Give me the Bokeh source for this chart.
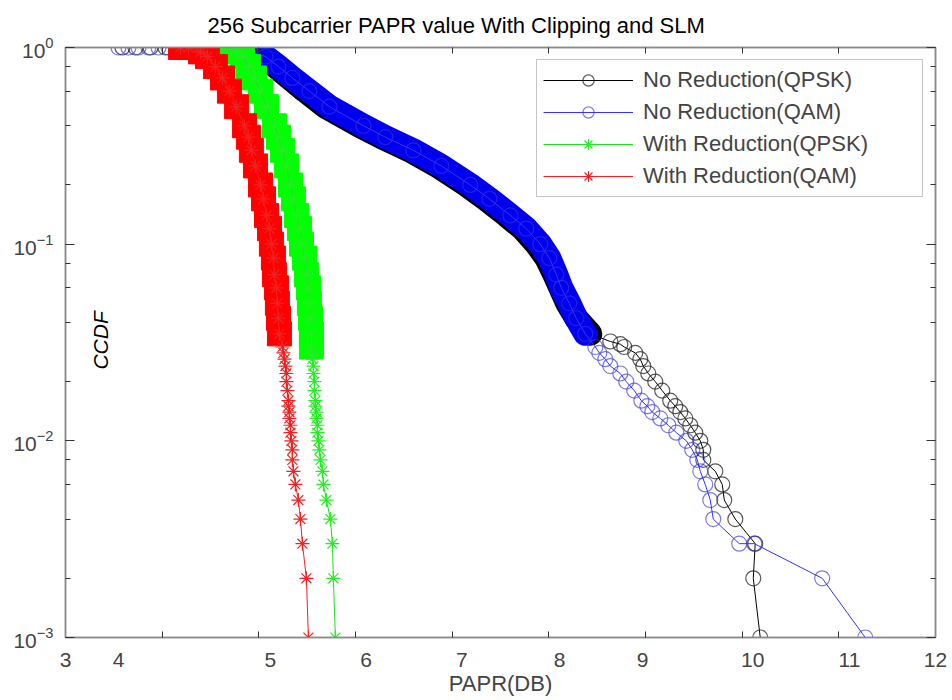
from bokeh.plotting import figure
from bokeh.models import (Range1d, LinearAxis, FixedTicker, LogTicker,
                          Legend, LegendItem, Label, CustomJSTickFormatter)
from bokeh.embed import file_html
from bokeh.resources import INLINE

FONT = "Liberation Sans"

# ---------------- data ----------------
x_tick_values = [4, 5, 6, 7, 8, 9, 10, 11]
x_label_positions = [3.0, 3.55, 5.12, 6.11, 7.10, 8.11, 8.97, 10.11, 11.11, 12.0]
x_label_texts = ["3", "4", "5", "6", "7", "8", "9", "10", "11", "12"]

# No Reduction (QPSK) - black
nr_qpsk_papr = [3.589, 3.724, 3.879, 4.034, 4.189, 4.344, 4.499, 4.655, 4.789,
                4.882, 5.037, 5.172, 5.316, 5.482, 5.689, 6.040, 6.268, 6.557, 6.847,
                7.147, 7.343, 7.561, 7.726, 7.871, 7.974, 8.057, 8.119, 8.191, 8.284,
                8.429, 8.636, 8.740, 8.780, 8.894, 8.946, 8.977, 9.029, 9.101, 9.173,
                9.256, 9.308, 9.360, 9.412, 9.463, 9.515, 9.567, 9.598, 9.598, 9.722,
                9.794, 9.815, 9.929, 10.135, 10.115, 10.187]
nr_qpsk_ccdf = [1.0, 1.0, 1.0, 1.0, 1.0, 1.0, 1.0, 1.0, 1.0,
                0.95, 0.9, 0.8, 0.7, 0.6, 0.5, 0.4, 0.35, 0.3, 0.25,
                0.2, 0.17, 0.14, 0.12, 0.1, 0.085, 0.07, 0.06, 0.05, 0.042,
                0.035, 0.032, 0.031, 0.03, 0.028, 0.026, 0.024, 0.022, 0.02, 0.018,
                0.016, 0.015, 0.014, 0.013, 0.012, 0.011, 0.010, 0.009, 0.008, 0.007,
                0.006, 0.005, 0.004, 0.003, 0.002, 0.001]

# No Reduction (QAM) - blue
nr_qam_papr = [3.548, 3.651, 3.755, 3.858, 3.962, 4.065, 4.169, 4.272, 4.375, 4.479,
               4.582, 4.686, 4.789,
               4.913, 5.068, 5.203, 5.347, 5.523, 5.730, 6.082, 6.309, 6.599, 6.888,
               7.188, 7.385, 7.602, 7.767, 7.912, 8.005, 8.078, 8.129, 8.212, 8.284,
               8.377, 8.481, 8.522, 8.584, 8.636, 8.739, 8.801, 8.884, 8.957, 9.019,
               9.070, 9.153, 9.236, 9.319, 9.422, 9.484, 9.536, 9.567, 9.618, 9.670,
               9.701, 9.970, 10.125, 10.828, 11.273]
nr_qam_ccdf = [1.0, 1.0, 1.0, 1.0, 1.0, 1.0, 1.0, 1.0, 1.0, 1.0,
               1.0, 1.0, 1.0,
               0.95, 0.9, 0.8, 0.7, 0.6, 0.5, 0.4, 0.35, 0.3, 0.25,
               0.2, 0.17, 0.14, 0.12, 0.1, 0.085, 0.07, 0.06, 0.05, 0.042,
               0.035, 0.03, 0.028, 0.026, 0.024, 0.022, 0.02, 0.018, 0.016, 0.015,
               0.014, 0.013, 0.012, 0.011, 0.010, 0.009, 0.008, 0.007, 0.006, 0.005,
               0.004, 0.003, 0.003, 0.002, 0.001]

# With Reduction (QPSK) - green
wr_qpsk_papr = [4.520, 4.624, 4.706,
                4.779, 4.830, 4.892, 4.954, 5.017, 5.079, 5.161, 5.203, 5.244, 5.285,
                5.327, 5.358, 5.389, 5.420, 5.441, 5.472, 5.492, 5.513, 5.523, 5.534,
                5.544, 5.544, 5.554, 5.554, 5.565, 5.565, 5.575, 5.575, 5.585, 5.585,
                5.596, 5.596, 5.606, 5.606, 5.616, 5.627, 5.637, 5.658, 5.668, 5.699,
                5.740, 5.761, 5.771, 5.792]
wr_qpsk_ccdf = [1.0, 1.0, 1.0,
                0.95, 0.9, 0.8, 0.7, 0.6, 0.5, 0.4, 0.35, 0.3, 0.25,
                0.2, 0.17, 0.14, 0.12, 0.1, 0.085, 0.07, 0.06, 0.05, 0.042,
                0.035, 0.03, 0.028, 0.026, 0.024, 0.022, 0.02, 0.018, 0.016, 0.015,
                0.014, 0.013, 0.012, 0.011, 0.010, 0.009, 0.008, 0.007, 0.006, 0.005,
                0.004, 0.003, 0.002, 0.001]

# With Reduction (QAM) - red
wr_qam_papr = [4.189, 4.272,
               4.396, 4.468, 4.551, 4.624, 4.696, 4.768, 4.851, 4.892, 4.923, 4.965,
               5.017, 5.048, 5.079, 5.110, 5.130, 5.151, 5.161, 5.182, 5.192, 5.203,
               5.213, 5.244, 5.254, 5.265, 5.275, 5.285, 5.285, 5.296, 5.306, 5.306,
               5.316, 5.316, 5.327, 5.327, 5.337, 5.347, 5.347, 5.358, 5.378, 5.409,
               5.430, 5.451, 5.492, 5.513]
wr_qam_ccdf = [1.0, 1.0,
               0.95, 0.9, 0.8, 0.7, 0.6, 0.5, 0.4, 0.35, 0.3, 0.25,
               0.2, 0.17, 0.14, 0.12, 0.1, 0.085, 0.07, 0.06, 0.05, 0.042,
               0.035, 0.03, 0.028, 0.026, 0.024, 0.022, 0.02, 0.018, 0.016, 0.015,
               0.014, 0.013, 0.012, 0.011, 0.010, 0.009, 0.008, 0.007, 0.006, 0.005,
               0.004, 0.003, 0.002, 0.001]


def subset(xs, ys, lo, hi):
    idx = [i for i, v in enumerate(ys) if lo <= v <= hi]
    return [xs[i] for i in idx], [ys[i] for i in idx]


# ---------------- figure ----------------
p = figure(width=952, height=700, output_backend="svg", toolbar_location=None,
           x_range=Range1d(3, 12), y_range=Range1d(1e-3, 1.0), y_axis_type="log",
           min_border_left=65, min_border_right=17, min_border_top=47,
           min_border_bottom=63, background_fill_color="white",
           border_fill_color="white")
p.xgrid.visible = False
p.ygrid.visible = False
p.outline_line_color = "#8a8a8a"
p.outline_line_width = 1.5

p.title.text = "256 Subcarrier PAPR value With Clipping and SLM"
p.title.align = "left"
p.title.offset = 142
p.title.text_font = FONT
p.title.text_font_size = "22px"
p.title.text_font_style = "normal"
p.title.text_color = "black"
p.title.standoff = 19

AX = "#8a8a8a"
TK = "#333333"

xa = p.xaxis[0]
xa.ticker = FixedTicker(ticks=x_label_positions, minor_ticks=x_tick_values)
xa.major_label_overrides = {v: t for v, t in zip(x_label_positions, x_label_texts)}
xa.major_tick_line_color = None
xa.minor_tick_in = 6
xa.minor_tick_out = 0
xa.minor_tick_line_color = TK
xa.axis_line_color = AX
xa.axis_line_width = 1.5
xa.major_label_text_font = FONT
xa.major_label_text_font_size = "21px"
xa.major_label_standoff = 9
xa.axis_label = "PAPR(DB)"
xa.axis_label_text_font = FONT
xa.axis_label_text_font_size = "22px"
xa.axis_label_text_font_style = "normal"
xa.axis_label_standoff = 1

ya = p.yaxis[0]
ya.ticker = LogTicker()
ya.major_tick_in = 9
ya.major_tick_out = 0
ya.minor_tick_in = 5
ya.minor_tick_out = 0
ya.major_tick_line_color = TK
ya.minor_tick_line_color = TK
ya.axis_line_color = AX
ya.axis_line_width = 1.5
ya.major_label_text_font = FONT
ya.major_label_text_font_size = "21px"
ya.major_label_standoff = 12

top = LinearAxis(ticker=FixedTicker(ticks=x_tick_values),
                 formatter=CustomJSTickFormatter(code="return ''"),
                 axis_line_color=AX, axis_line_width=1.5, major_tick_in=6,
                 major_tick_out=0, minor_tick_line_color=None,
                 major_tick_line_color=TK, major_label_standoff=0)
p.add_layout(top, "above")
right = LinearAxis(ticker=LogTicker(), formatter=CustomJSTickFormatter(code="return ''"),
                   axis_line_color=AX, axis_line_width=1.5,
                   major_tick_in=9, major_tick_out=0, minor_tick_in=5, minor_tick_out=0,
                   major_tick_line_color=TK, minor_tick_line_color=TK,
                   major_label_standoff=0)
p.add_layout(right, "right")

# ---------------- series ----------------
# No Reduction (QPSK) - black
bx, by = subset(nr_qpsk_papr, nr_qpsk_ccdf, 0.034, 0.96)
p.line(bx, by, line_color="black", line_width=24, line_join="round", line_cap="round")
k_line = p.line(nr_qpsk_papr, nr_qpsk_ccdf, line_color="black", line_width=1)
k_mk = p.scatter(nr_qpsk_papr, nr_qpsk_ccdf, marker="circle", size=15,
                 fill_color=None, line_color="#222222", line_alpha=0.75, line_width=1.2)

# No Reduction (QAM) - blue
bx, by = subset(nr_qam_papr, nr_qam_ccdf, 0.034, 0.96)
p.line(bx, by, line_color="#0000ee", line_width=24, line_join="round", line_cap="round")
b_line = p.line(nr_qam_papr, nr_qam_ccdf, line_color="#3333ff", line_width=1)
b_mk = p.scatter(nr_qam_papr, nr_qam_ccdf, marker="circle", size=15,
                 fill_color=None, line_color="#3333dd", line_alpha=0.65, line_width=1.2)

# With Reduction (QPSK) - green
bx, by = subset(wr_qpsk_papr, wr_qpsk_ccdf, 0.03, 1.0)
p.scatter(bx, by, marker="square", size=24, fill_color="#00ff00", line_color="#00ff00")
g_line = p.line(wr_qpsk_papr, wr_qpsk_ccdf, line_color="#22dd22", line_width=1)
g_mk = p.scatter(wr_qpsk_papr, wr_qpsk_ccdf, marker="asterisk", size=14,
                 line_color="#22ee22", line_width=1.2)

# With Reduction (QAM) - red
bx, by = subset(wr_qam_papr, wr_qam_ccdf, 0.034, 1.0)
p.scatter(bx, by, marker="square", size=24, fill_color="#ff0000", line_color="#ff0000")
r_line = p.line(wr_qam_papr, wr_qam_ccdf, line_color="#ee2222", line_width=1)
r_mk = p.scatter(wr_qam_papr, wr_qam_ccdf, marker="asterisk", size=14,
                 line_color="#ee2222", line_width=1.2)

# ---------------- legend ----------------
legend = Legend(items=[
    LegendItem(label="No Reduction(QPSK)", renderers=[k_line, k_mk]),
    LegendItem(label="No Reduction(QAM)", renderers=[b_line, b_mk]),
    LegendItem(label="With Reduction(QPSK)", renderers=[g_line, g_mk]),
    LegendItem(label="With Reduction(QAM)", renderers=[r_line, r_mk]),
], location="top_right")
legend.margin = 12
legend.padding = 6
legend.spacing = 4
legend.glyph_width = 90
legend.glyph_height = 28
legend.label_height = 28
legend.label_width = 273
legend.label_standoff = 10
legend.label_text_font = FONT
legend.label_text_font_size = "22px"
legend.border_line_color = "#8a8a8a"
legend.border_line_width = 1.5
legend.background_fill_color = "white"
legend.background_fill_alpha = 1.0
p.add_layout(legend)

ylab = Label(x=3.36, y=0.0324, text="CCDF", angle=1.5708, text_align="center",
             text_baseline="middle", text_font=FONT, text_font_size="21px",
             text_font_style="italic", text_color="black")
p.add_layout(ylab)

open("out.html", "w").write(file_html(p, INLINE))
